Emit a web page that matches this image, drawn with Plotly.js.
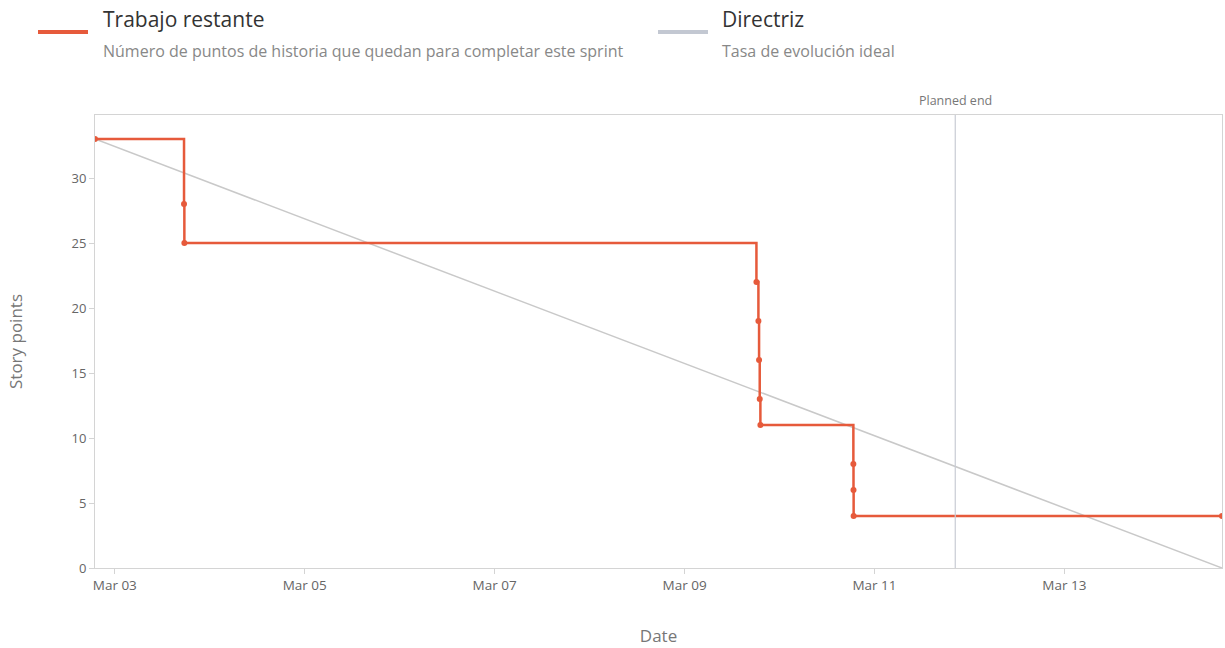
<!DOCTYPE html>
<html>
<head>
<meta charset="utf-8">
<script src="https://cdn.plot.ly/plotly-3.0.1.min.js"></script>
<style>
  html, body { margin: 0; padding: 0; background: #fff; }
  #chart { width: 1225px; height: 648px; }
</style>
</head>
<body>
<div id="chart"></div>
<script>
// Remaining work (story points) at each recorded moment
const remainingDates = [
  '2023-03-02 19:00', '2023-03-03 17:30', '2023-03-03 17:35',
  '2023-03-09 18:10', '2023-03-09 18:40', '2023-03-09 18:50',
  '2023-03-09 19:00', '2023-03-09 19:10',
  '2023-03-10 18:40', '2023-03-10 18:42', '2023-03-10 18:44',
  '2023-03-14 15:50'
];
const remainingPoints = [33, 28, 25, 22, 19, 16, 13, 11, 8, 6, 4, 4];

// Ideal trend
const idealDates = ['2023-03-02 19:00', '2023-03-14 15:50'];
const idealPoints = [33, 0];

const plannedEnd = '2023-03-11 20:25';
const xRange = ['2023-03-02 19:00', '2023-03-14 15:50'];
const yRange = [0, 34.85];

const legendNames = ['Trabajo restante', 'Directriz'];
const legendDescs = ['Número de puntos de historia que quedan para completar este sprint', 'Tasa de evolución ideal'];

const RED = '#e65a3b';
const GRAY = '#c9c9c9';
const FONT = 'Open Sans, Noto Sans, sans-serif';

const traces = [
  {
    x: idealDates, y: idealPoints, mode: 'lines', type: 'scatter',
    line: { color: GRAY, width: 1.5 }, hoverinfo: 'skip', showlegend: false
  },
  {
    x: remainingDates, y: remainingPoints, mode: 'lines+markers', type: 'scatter',
    line: { color: RED, width: 2.5, shape: 'hv' },
    marker: { color: RED, size: 6 }, showlegend: false
  }
];

const layout = {
  width: 1225, height: 648,
  margin: { l: 95, r: 3, t: 115, b: 80 },
  paper_bgcolor: '#fff', plot_bgcolor: '#fff',
  font: { family: FONT, color: '#666', size: 12 },
  showlegend: false,
  xaxis: {
    type: 'date', range: xRange,
    tick0: '2023-03-03', dtick: 2 * 86400000, tickformat: '%b %d',
    showgrid: false, zeroline: false,
    showline: true, linecolor: '#d4d4d4', linewidth: 1, mirror: true,
    ticks: 'outside', ticklen: 5, tickcolor: '#d4d4d4',
    tickfont: { size: 13.5, color: '#666' },
    title: { text: 'Date', font: { size: 17, color: '#777' }, standoff: 36 }
  },
  yaxis: {
    range: yRange, tick0: 0, dtick: 5,
    showgrid: false, zeroline: false,
    showline: true, linecolor: '#d4d4d4', linewidth: 1, mirror: true,
    ticks: 'outside', ticklen: 5, tickcolor: '#d4d4d4',
    tickfont: { size: 13, color: '#666' },
    title: { text: 'Story points', font: { size: 17, color: '#777' }, standoff: 44 }
  },
  shapes: [
    { type: 'line', xref: 'x', yref: 'paper', x0: plannedEnd, x1: plannedEnd, y0: 0, y1: 1,
      line: { color: '#c8ccd4', width: 1.2 } },
    { type: 'line', xref: 'paper', yref: 'paper',
      x0: -57/1127, x1: -7/1127, y0: 1 + (115-32)/453, y1: 1 + (115-32)/453,
      line: { color: RED, width: 4 } },
    { type: 'line', xref: 'paper', yref: 'paper',
      x0: (658-95)/1127, x1: (708-95)/1127, y0: 1 + (115-32)/453, y1: 1 + (115-32)/453,
      line: { color: '#c3c8d2', width: 4 } }
  ],
  annotations: [
    { xref: 'x', yref: 'paper', x: plannedEnd, y: 1, yanchor: 'bottom', xanchor: 'center', yshift: 4,
      text: 'Planned end', showarrow: false, font: { size: 12.5, color: '#777' } },
    { xref: 'paper', yref: 'paper', x: (101-95)/1127, y: 1 + (115-19)/453, xanchor: 'left', yanchor: 'middle',
      text: legendNames[0], showarrow: false, font: { size: 21, color: '#333' } },
    { xref: 'paper', yref: 'paper', x: (101-95)/1127, y: 1 + (115-51)/453, xanchor: 'left', yanchor: 'middle',
      text: legendDescs[0], showarrow: false, font: { size: 16, color: '#888' } },
    { xref: 'paper', yref: 'paper', x: (720-95)/1127, y: 1 + (115-19)/453, xanchor: 'left', yanchor: 'middle',
      text: legendNames[1], showarrow: false, font: { size: 21, color: '#333' } },
    { xref: 'paper', yref: 'paper', x: (720-95)/1127, y: 1 + (115-51)/453, xanchor: 'left', yanchor: 'middle',
      text: legendDescs[1], showarrow: false, font: { size: 16, color: '#888' } }
  ]
};

Plotly.newPlot('chart', traces, layout, { displayModeBar: false, staticPlot: true });
</script>
</body>
</html>
